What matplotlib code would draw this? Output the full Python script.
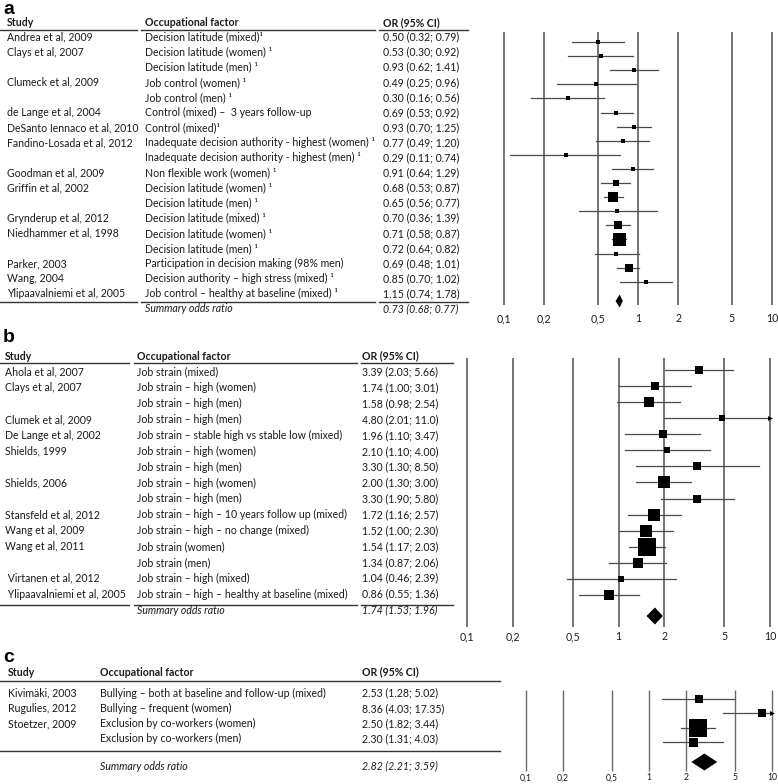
import matplotlib
matplotlib.use("Agg")
import matplotlib.pyplot as plt
import numpy as np

# ---------------- data ----------------
tick_values = [0.1, 0.2, 0.5, 1, 2, 5, 10]
tick_labels = ["0,1", "0,2", "0,5", "1", "2", "5", "10"]

studies_a = ["Andrea et al, 2009", "Clays et al, 2007", "", "Clumeck et al, 2009", "",
             "de Lange et al, 2004", "DeSanto Iennaco et al, 2010", "Fandino-Losada et al, 2012", "",
             "Goodman et al, 2009", "Griffin et al, 2002", "", "Grynderup et al, 2012",
             "Niedhammer et al, 1998", "", "Parker, 2003", "Wang, 2004", "Ylipaavalniemi et al, 2005"]
factors_a = ["Decision latitude (mixed)¹", "Decision latitude (women) ¹", "Decision latitude (men) ¹",
             "Job control (women) ¹", "Job control (men) ¹", "Control (mixed) –  3 years follow-up",
             "Control (mixed)¹", "Inadequate decision authority - highest (women) ¹",
             "Inadequate decision authority - highest (men) ¹", "Non flexible work (women) ¹",
             "Decision latitude (women) ¹", "Decision latitude (men) ¹", "Decision latitude (mixed) ¹",
             "Decision latitude (women) ¹", "Decision latitude (men) ¹",
             "Participation in decision making (98% men)", "Decision authority – high stress (mixed) ¹",
             "Job control – healthy at baseline (mixed) ¹"]
or_a = [0.50, 0.53, 0.93, 0.49, 0.30, 0.69, 0.93, 0.77, 0.29, 0.91, 0.68, 0.65, 0.70, 0.71, 0.72, 0.69, 0.85, 1.15]
lo_a = [0.32, 0.30, 0.62, 0.25, 0.16, 0.53, 0.70, 0.49, 0.11, 0.64, 0.53, 0.56, 0.36, 0.58, 0.64, 0.48, 0.70, 0.74]
hi_a = [0.79, 0.92, 1.41, 0.96, 0.56, 0.92, 1.25, 1.20, 0.74, 1.29, 0.87, 0.77, 1.39, 0.87, 0.82, 1.01, 1.02, 1.78]
weight_a = [4.3, 4.3, 4.3, 4.3, 4.3, 4.7, 4.3, 4.3, 4.3, 4.3, 6, 10, 4.3, 7.7, 13, 4.3, 8.3, 4.3]
ci_text_a = ["0.50 (0.32; 0.79)", "0.53 (0.30; 0.92)", "0.93 (0.62; 1.41)", "0.49 (0.25; 0.96)",
             "0.30 (0.16; 0.56)", "0.69 (0.53; 0.92)", "0.93 (0.70; 1.25)", "0.77 (0.49; 1.20)",
             "0.29 (0.11; 0.74)", "0.91 (0.64; 1.29)", "0.68 (0.53; 0.87)", "0.65 (0.56; 0.77)",
             "0.70 (0.36; 1.39)", "0.71 (0.58; 0.87)", "0.72 (0.64; 0.82)", "0.69 (0.48; 1.01)",
             "0.85 (0.70; 1.02)", "1.15 (0.74; 1.78)"]
summary_a = (0.73, 0.68, 0.77)
summary_text_a = "0.73 (0.68; 0.77)"

studies_b = ["Ahola et al, 2007", "Clays et al, 2007", "", "Clumek et al, 2009", "De Lange et al, 2002",
             "Shields, 1999", "", "Shields, 2006", "", "Stansfeld et al, 2012", "Wang et al, 2009",
             "Wang et al, 2011", "", " Virtanen et al, 2012", " Ylipaavalniemi et al, 2005"]
factors_b = ["Job strain (mixed)", "Job strain – high (women)", "Job strain – high (men)",
             "Job strain – high (men)", "Job strain – stable high vs stable low (mixed)",
             "Job strain – high (women)", "Job strain – high (men)", "Job strain – high (women)",
             "Job strain – high (men)", "Job strain – high – 10 years follow up (mixed)",
             "Job strain – high – no change (mixed)", "Job strain (women)", "Job strain (men)",
             "Job strain – high (mixed)", "Job strain – high – healthy at baseline (mixed)"]
or_b = [3.39, 1.74, 1.58, 4.80, 1.96, 2.10, 3.30, 2.00, 3.30, 1.72, 1.52, 1.54, 1.34, 1.04, 0.86]
lo_b = [2.03, 1.00, 0.98, 2.01, 1.10, 1.10, 1.30, 1.30, 1.90, 1.16, 1.00, 1.17, 0.87, 0.46, 0.55]
hi_b = [5.66, 3.01, 2.54, 11.0, 3.47, 4.00, 8.50, 3.00, 5.80, 2.57, 2.30, 2.03, 2.06, 2.39, 1.36]
weight_b = [8.7, 7.3, 10, 6.7, 7.3, 6.7, 7.3, 11.3, 7.3, 11.3, 11.3, 17.3, 10.7, 6.7, 10]
ci_text_b = ["3.39 (2.03; 5.66)", "1.74 (1.00; 3.01)", "1.58 (0.98; 2.54)", "4.80 (2.01; 11.0)",
             "1.96 (1.10; 3.47)", "2.10 (1.10; 4.00)", "3.30 (1.30; 8.50)", "2.00 (1.30; 3.00)",
             "3.30 (1.90; 5.80)", "1.72 (1.16; 2.57)", "1.52 (1.00; 2.30)", "1.54 (1.17; 2.03)",
             "1.34 (0.87; 2.06)", "1.04 (0.46; 2.39)", "0.86 (0.55; 1.36)"]
summary_b = (1.74, 1.53, 1.96)
summary_text_b = "1.74 (1.53; 1.96)"

studies_c = ["Kivimäki, 2003", "Rugulies, 2012", "Stoetzer, 2009", ""]
factors_c = ["Bullying – both at baseline and follow-up (mixed)", "Bullying – frequent (women)",
             "Exclusion by co-workers (women)", "Exclusion by co-workers (men)"]
or_c = [2.53, 8.36, 2.50, 2.30]
lo_c = [1.28, 4.03, 1.82, 1.31]
hi_c = [5.02, 17.35, 3.44, 4.03]
weight_c = [7.3, 7.3, 17.5, 9]
ci_text_c = ["2.53 (1.28; 5.02)", "8.36 (4.03; 17.35)", "2.50 (1.82; 3.44)", "2.30 (1.31; 4.03)"]
summary_c = (2.82, 2.21, 3.59)
summary_text_c = "2.82 (2.21; 3.59)"

# ---------------- layout ----------------
W, H = 778, 784
FONT = ["Lato", "DejaVu Sans"]
TXT = "#1a1a1a"
GRID = "#6a6a6a"
CIC = "#4a4a4a"

fig = plt.figure(figsize=(W / 100, H / 100), dpi=100)

def fx(x):
    return x / W

def fy(y):
    return 1 - y / H

def hline(segs, y, lw=1.0):
    for x0, x1 in segs:
        fig.add_artist(plt.Line2D([fx(x0), fx(x1)], [fy(y), fy(y)], color="#333333", lw=lw))

def text_panel(letter, letter_y, cols, header_y, header_line_y, segs, row_y, studies, factors,
               ci_text, bottom_line_y, summary_y, summary_text, fs=7.6):
    fig.text(fx(3), fy(letter_y), letter, fontsize=14, fontweight="bold", family="Liberation Sans",
             va="center", ha="left", color="black")
    for cx, lab in zip(cols, ["Study", "Occupational factor", "OR (95% CI)"]):
        fig.text(fx(cx), fy(header_y), lab, fontsize=fs, fontweight="bold", family=FONT,
                 va="center", color=TXT)
    hline(segs, header_line_y)
    for y, s, f, c in zip(row_y, studies, factors, ci_text):
        fig.text(fx(cols[0]), fy(y), s, fontsize=fs, family=FONT, va="center", color=TXT)
        fig.text(fx(cols[1]), fy(y), f, fontsize=fs, family=FONT, va="center", color=TXT)
        fig.text(fx(cols[2]), fy(y), c, fontsize=fs, family=FONT, va="center", color=TXT)
    hline(segs, bottom_line_y)
    fig.text(fx(cols[1]), fy(summary_y), "Summary odds ratio", fontsize=fs, family=FONT,
             style="italic", va="center", color=TXT)
    fig.text(fx(cols[2]), fy(summary_y), summary_text, fontsize=fs, family=FONT,
             style="italic", va="center", color=TXT)

def forest(px0, px1, ax_left, ax_right, ax_top, ax_bottom, line_top, line_bottom, label_y,
           mark_y, ors, los, his, weights, summ, summ_y, diamond_h, tick_fs=7.6, grid_lw=1.3):
    ax = fig.add_axes([fx(ax_left), fy(ax_bottom), (ax_right - ax_left) / W, (ax_bottom - ax_top) / H])
    ax.set_xscale("log")
    dec = (px1 - px0) / 2.0
    ax.set_xlim(10 ** (-1 - (px0 - ax_left) / dec), 10 ** (1 + (ax_right - px1) / dec))
    ax.set_ylim(ax_bottom, ax_top)
    ax.axis("off")
    xmax = tick_values[-1]
    for t, lab in zip(tick_values, tick_labels):
        ax.plot([t, t], [line_top, line_bottom], color=GRID, lw=grid_lw, solid_capstyle="butt", zorder=1)
        ax.text(t, label_y, lab, ha="center", va="center", fontsize=tick_fs, family=FONT, color=TXT)
    for y, o, l, h, w in zip(mark_y, ors, los, his, weights):
        ax.plot([l, min(h, xmax)], [y, y], color=CIC, lw=0.9, zorder=2)
        if h > xmax:
            ax.plot([xmax], [y], marker=">", ms=3.5, color="black", mew=0, zorder=3)
        ax.plot([o], [y], marker="s", ms=w * 0.72, color="black", mew=0, zorder=3)
    o, l, h = summ
    ax.fill([l, o, h, o], [summ_y, summ_y - diamond_h / 2, summ_y, summ_y + diamond_h / 2],
            color="black", lw=0, zorder=3)
    return ax

# ---------------- panel a ----------------
n_a = len(studies_a)
row_a = [37 + i * 15.1 for i in range(n_a)]
text_panel("a", 10, [7, 145, 383], 23, 30, [(0, 137), (141, 375), (379, 468)], row_a,
           studies_a, factors_a, ci_text_a, 302, 309, summary_text_a)
mark_a = [42 + i * 14.1 for i in range(n_a)]
forest(504, 772, 480, 778, 25, 330, 32, 305, 319, mark_a, or_a, lo_a, hi_a, weight_a,
       summary_a, 301, 13)

# ---------------- panel b ----------------
n_b = len(studies_b)
row_b = [372 + i * 15.86 for i in range(n_b)]
text_panel("b", 337, [5, 137, 362], 356, 363, [(0, 129), (134, 357), (361, 453)], row_b,
           studies_b, factors_b, ci_text_b, 605, 610, summary_text_b)
mark_b = [370 + i * 16.07 for i in range(n_b)]
forest(467, 770, 455, 778, 350, 648, 358, 627, 637, mark_b, or_b, lo_b, hi_b, weight_b,
       summary_b, 616, 17)

# ---------------- panel c ----------------
n_c = len(studies_c)
row_c = [693 + i * 15.3 for i in range(n_c)]
text_panel("c", 657, [8, 100, 362], 672, 681, [(0, 500)], row_c,
           studies_c, factors_c, ci_text_c, 751, 766, summary_text_c)
mark_c = [699 + i * 14.4 for i in range(n_c)]
forest(526, 772, 505, 778, 685, 784, 690, 771, 778, mark_c, or_c, lo_c, hi_c, weight_c,
       summary_c, 762, 17, tick_fs=6.2, grid_lw=1.0)

fig.savefig("out.png", dpi=100)
